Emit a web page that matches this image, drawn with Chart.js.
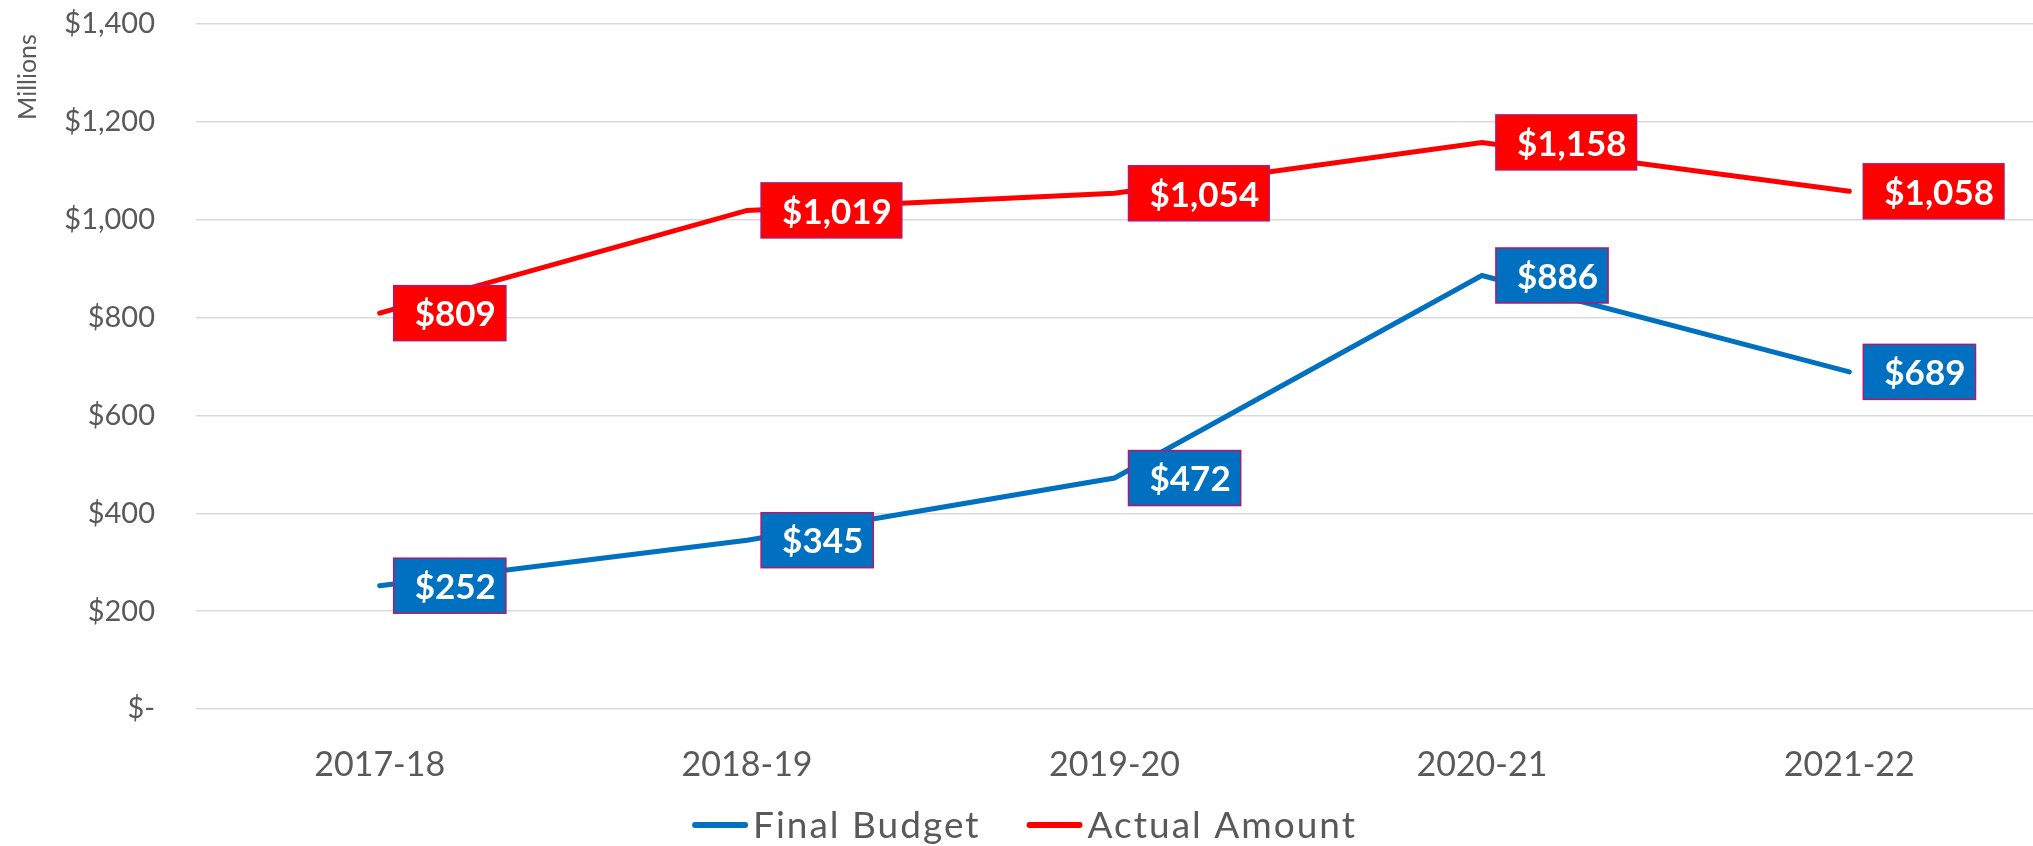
<!DOCTYPE html>
<html>
<head>
<meta charset="utf-8">
<script src="https://cdn.jsdelivr.net/npm/chart.js@4.4.1/dist/chart.umd.min.js"></script>
<style>
  html, body { margin: 0; padding: 0; background: #fff; }
  #wrap { width: 2033px; height: 846px; position: relative; }
</style>
</head>
<body>
<div id="wrap"><canvas id="chart" width="2033" height="846"></canvas></div>
<script>
// Chart data
const years = ['2017-18', '2018-19', '2019-20', '2020-21', '2021-22'];
const finalBudget = [252, 345, 472, 886, 689];
const actualAmount = [809, 1019, 1054, 1158, 1058];
const yTicks = [0, 200, 400, 600, 800, 1000, 1200, 1400];

const BLUE = '#0070C0';
const RED = '#FF0000';
const GREY = '#595959';
const FONT = 'Lato, "Open Sans", sans-serif';

function money(v) {
    if (v === 0) return '$-';
    return '$' + v.toLocaleString('en-US');
}

// Boxed value labels to the right of each point
const labelBoxes = {
    id: 'labelBoxes',
    afterDatasetsDraw(chart) {
        const ctx = chart.ctx;
        ctx.save();
        chart.data.datasets.forEach((ds, i) => {
            const meta = chart.getDatasetMeta(i);
            meta.data.forEach((pt, j) => {
                const text = money(ds.data[j]);
                ctx.font = 'bold 35px ' + FONT;
                const w = ctx.measureText(text).width + 31;
                const h = 55;
                const x = pt.x + 14;
                const y = pt.y - h / 2;
                ctx.fillStyle = ds.borderColor;
                ctx.fillRect(x, y, w, h);
                ctx.strokeStyle = '#B0196F';
                ctx.lineWidth = 1.5;
                ctx.strokeRect(x, y, w, h);
                ctx.fillStyle = '#fff';
                ctx.textBaseline = 'middle';
                ctx.textAlign = 'left';
                ctx.fillText(text, x + 21, pt.y + 2);
            });
        });
        ctx.restore();
    }
};

// "Millions" unit label and the line legend under the axis
const extras = {
    id: 'extras',
    afterDraw(chart) {
        const ctx = chart.ctx;
        ctx.save();
        ctx.translate(28, chart.chartArea.top + 53);
        ctx.rotate(-Math.PI / 2);
        ctx.font = '25px ' + FONT;
        ctx.fillStyle = GREY;
        ctx.textAlign = 'center';
        ctx.textBaseline = 'middle';
        ctx.fillText('Millions', 0, 0);
        ctx.restore();

        // legend
        ctx.save();
        ctx.font = '37px ' + FONT;
        ctx.letterSpacing = '2px';
        const lineLen = 56, gap = 5, spacing = 46;
        const items = chart.data.datasets.map(ds => ({
            text: ds.label, color: ds.borderColor, w: ctx.measureText(ds.label).width
        }));
        let total = items.reduce((s, it) => s + lineLen + gap + it.w, 0) + spacing * (items.length - 1);
        let x = chart.width / 2 - total / 2 + 8;
        const y = 825;
        items.forEach(it => {
            ctx.strokeStyle = it.color;
            ctx.lineWidth = 6;
            ctx.lineCap = 'round';
            ctx.beginPath();
            ctx.moveTo(x + 3, y);
            ctx.lineTo(x + lineLen - 3, y);
            ctx.stroke();
            ctx.fillStyle = GREY;
            ctx.textBaseline = 'middle';
            ctx.textAlign = 'left';
            ctx.fillText(it.text, x + lineLen + gap, y + 1);
            x += lineLen + gap + it.w + spacing;
        });
        ctx.restore();
    }
};

new Chart(document.getElementById('chart').getContext('2d'), {
    type: 'line',
    data: {
        labels: years,
        datasets: [
            {
                label: 'Final Budget',
                data: finalBudget,
                borderColor: BLUE,
                backgroundColor: BLUE,
                borderWidth: 5,
                borderCapStyle: 'round',
                pointRadius: 0,
                tension: 0
            },
            {
                label: 'Actual Amount',
                data: actualAmount,
                borderColor: RED,
                backgroundColor: RED,
                borderWidth: 5,
                borderCapStyle: 'round',
                pointRadius: 0,
                tension: 0
            }
        ]
    },
    options: {
        responsive: false,
        animation: false,
        layout: { padding: { top: 24, right: 0, left: 0, bottom: 55 } },
        plugins: {
            legend: { display: false },
            tooltip: { enabled: false }
        },
        scales: {
            x: {
                offset: true,
                grid: { display: false, drawTicks: false },
                border: { display: false },
                ticks: {
                    color: GREY,
                    font: { family: FONT, size: 34 },
                    padding: 36
                },
                afterFit(scale) { scale.height = 82; }
            },
            y: {
                min: 0,
                max: 1400,
                afterBuildTicks(scale) {
                    scale.ticks = yTicks.map(v => ({ value: v }));
                },
                grid: { color: '#D9D9D9', lineWidth: 1.5, drawTicks: false },
                border: { display: false },
                ticks: {
                    color: GREY,
                    font: { family: FONT, size: 29 },
                    padding: 41,
                    callback: v => money(v)
                },
                afterFit(scale) {
                    scale.width = 196;
                    scale.paddingTop = 0;
                    scale.paddingBottom = 0;
                }
            }
        }
    },
    plugins: [labelBoxes, extras]
});
</script>
</body>
</html>
